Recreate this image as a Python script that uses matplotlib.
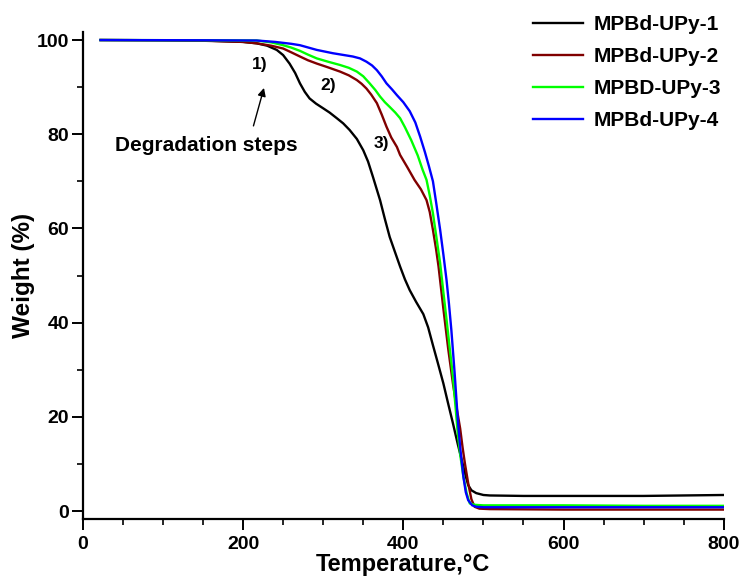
import numpy as np
import matplotlib
matplotlib.use('Agg')
import matplotlib.pyplot as plt
from matplotlib.ticker import MultipleLocator

plt.rcParams['font.family'] = ['Liberation Sans', 'DejaVu Sans']
plt.rcParams['font.weight'] = 'bold'

# %% data (temperature in C, weight in %)
t1 = [22, 100, 150, 200, 217, 230, 242, 250, 258, 265, 271, 277, 283, 291, 300, 308, 317, 325,
      333, 342, 350, 356, 362, 371, 377, 383, 390, 396, 402, 408, 416, 425, 431, 437, 443, 450,
      456, 462, 468, 473, 477, 481, 485, 491, 500, 508, 550, 600, 700, 750, 800]
w1 = [100, 99.95, 99.9, 99.6, 99.3, 98.8, 97.9, 96.8, 95.0, 93.0, 90.8, 89.0, 87.6, 86.5, 85.5,
      84.6, 83.4, 82.3, 80.9, 79.0, 76.6, 74.2, 71.0, 66.0, 62.0, 58.2, 54.8, 51.9, 49.2, 46.9,
      44.4, 41.8, 39.0, 35.2, 31.5, 27.1, 22.8, 18.6, 14.2, 10.8, 8.0, 5.5, 4.4, 3.8, 3.4, 3.3,
      3.2, 3.2, 3.2, 3.3, 3.4]

t2 = [22, 100, 150, 200, 217, 235, 250, 260, 271, 281, 292, 306, 321, 332, 342, 348, 354, 360,
      367, 373, 379, 385, 392, 396, 405, 414, 422, 429, 433, 437, 441, 444, 450, 456, 462, 467,
      471, 474, 477, 481, 485, 489, 495, 508, 600, 800]
w2 = [100, 99.95, 99.85, 99.6, 99.3, 98.8, 98.2, 97.4, 96.5, 95.7, 95.0, 94.2, 93.3, 92.5, 91.5,
      90.7, 89.7, 88.4, 86.6, 84.2, 81.6, 79.3, 77.3, 75.6, 73.0, 70.3, 68.3, 66.0, 63.5, 59.7,
      55.5, 51.9, 43.0, 34.5, 27.0, 21.5, 17.5, 13.5, 10.0, 5.9, 2.5, 0.9, 0.5, 0.4, 0.3, 0.3]

t3 = [22, 150, 217, 235, 250, 260, 271, 281, 292, 306, 321, 332, 342, 350, 358, 365, 371, 377,
      383, 390, 396, 402, 410, 418, 424, 429, 433, 437, 441, 446, 450, 454, 458, 462, 465, 468,
      471, 475, 479, 483, 490, 500, 600, 700, 800]
w3 = [100, 99.95, 99.9, 99.5, 98.9, 98.4, 97.7, 96.9, 96.1, 95.4, 94.7, 94.1, 93.3, 92.3, 90.8,
      89.4, 88.0, 86.8, 85.8, 84.6, 83.4, 81.5, 78.7, 75.5, 72.5, 70.3, 67.0, 63.2, 58.5, 52.6,
      46.5, 40.6, 34.5, 28.5, 22.5, 16.5, 12.0, 7.3, 3.8, 1.6, 1.3, 1.2, 1.2, 1.1, 1.1]

t4 = [22, 150, 217, 240, 260, 271, 292, 312, 337, 346, 354, 361, 367, 373, 379, 386, 392, 400,
      408, 415, 421, 427, 432, 437, 441, 446, 450, 454, 457, 460, 464, 468, 471, 475, 478, 481,
      486, 491, 500, 600, 800]
w4 = [100, 99.95, 99.9, 99.6, 99.2, 98.9, 97.9, 97.2, 96.5, 96.1, 95.4, 94.6, 93.6, 92.3, 90.8,
      89.5, 88.3, 86.8, 84.9, 82.5, 79.5, 76.2, 73.2, 70.0, 65.5, 59.7, 54.5, 49.0, 44.0, 38.4,
      29.5, 19.5, 13.5, 7.3, 4.0, 2.3, 1.2, 0.9, 0.8, 0.8, 0.8]

labels = ['MPBd-UPy-1', 'MPBd-UPy-2', 'MPBD-UPy-3', 'MPBd-UPy-4']
colors = ['black', '#800000', '#00ff00', '#0000ff']

# %% figure
fig = plt.figure(figsize=(7.4, 5.77), dpi=100)
ax = fig.add_axes([0.112, 0.1005, 0.866, 0.844])

for t, w, lab, c in zip([t1, t2, t3, t4], [w1, w2, w3, w4], labels, colors):
    ax.plot(t, w, color=c, lw=1.7, label=lab)

ax.set_xlim(0, 800)
ax.set_ylim(-1.7, 101.7)
ax.spines['top'].set_visible(False)
ax.spines['right'].set_visible(False)
for s in ['left', 'bottom']:
    ax.spines[s].set_linewidth(1.6)

ax.xaxis.set_major_locator(MultipleLocator(200))
ax.xaxis.set_minor_locator(MultipleLocator(50))
ax.yaxis.set_major_locator(MultipleLocator(20))
ax.yaxis.set_minor_locator(MultipleLocator(10))
ax.tick_params(which='major', direction='out', length=8, width=1.4, labelsize=14, pad=2)
ax.tick_params(axis='x', which='major', pad=4)
ax.tick_params(which='minor', direction='out', length=4, width=1.2)

ax.set_xlabel('Temperature,°C', fontsize=17, fontweight='bold', labelpad=0)
ax.set_ylabel('Weight (%)', fontsize=17.5, fontweight='bold', labelpad=1)

# annotations
ax.text(221, 94.7, '1)', fontsize=12.5, ha='center', va='center')
ax.text(306, 90.4, '2)', fontsize=12.5, ha='center', va='center')
ax.text(373, 78.0, '3)', fontsize=12.5, ha='center', va='center')
ax.text(154, 77.7, 'Degradation steps', fontsize=15, ha='center', va='center')
ax.annotate('', xy=(227, 90.4), xytext=(212, 81.2),
            arrowprops=dict(arrowstyle='-|>', color='black', lw=1.0, mutation_scale=12))

fig.legend(loc='upper left', bbox_to_anchor=(0.704, 0.995), frameon=False,
           fontsize=15, handlelength=2.4, labelspacing=0.62, handletextpad=0.5,
           borderaxespad=0.2)

fig.savefig('out.png', dpi=100)
